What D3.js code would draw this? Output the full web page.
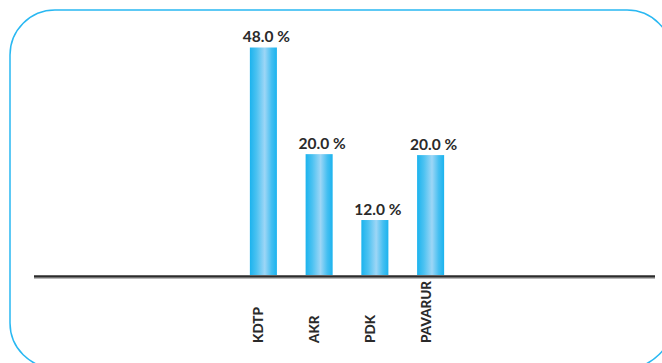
<!DOCTYPE html>
<html>
<head>
<meta charset="utf-8">
<script src="https://cdn.jsdelivr.net/npm/d3@7"></script>
<style>
  html, body { margin: 0; padding: 0; background: #fff; }
  svg { display: block; }
</style>
</head>
<body>
<svg id="chart" width="662" height="363"></svg>
<script>
const categories = ["KDTP", "AKR", "PDK", "PAVARUR"];
const values = [48, 25.5, 11.6, 25.3];
const valueLabels = ["48.0 %", "20.0 %", "12.0 %", "20.0 %"];

const svg = d3.select("#chart");

// frame
svg.append("rect")
  .attr("x", 10).attr("y", 10)
  .attr("width", 662).attr("height", 358)
  .attr("rx", 45).attr("ry", 45)
  .attr("fill", "none")
  .attr("stroke", "#29b8f2")
  .attr("stroke-width", 1.5);

const defs = svg.append("defs");
const grad = defs.append("linearGradient")
  .attr("id", "barGrad")
  .attr("x1", "0%").attr("x2", "100%").attr("y1", "0%").attr("y2", "0%");
grad.append("stop").attr("offset", "0%").attr("stop-color", "#1bb3ee");
grad.append("stop").attr("offset", "25%").attr("stop-color", "#4cc2f1");
grad.append("stop").attr("offset", "55%").attr("stop-color", "#9dd6f6");
grad.append("stop").attr("offset", "80%").attr("stop-color", "#45bff1");
grad.append("stop").attr("offset", "100%").attr("stop-color", "#1bb3ee");

const x = d3.scaleBand()
  .domain(categories)
  .range([222, 472])
  .paddingInner(0.515)
  .paddingOuter(0.5);

const y = d3.scaleLinear()
  .domain([0, 48])
  .range([275, 47.5]);

const data = categories.map((c, i) => ({ c, v: values[i], label: valueLabels[i] }));

svg.selectAll("rect.bar")
  .data(data)
  .enter().append("rect")
  .attr("class", "bar")
  .attr("x", d => x(d.c))
  .attr("y", d => y(d.v))
  .attr("width", x.bandwidth())
  .attr("height", d => y(0) - y(d.v))
  .attr("fill", "url(#barGrad)");

// baseline
svg.append("line")
  .attr("x1", 34).attr("x2", 655)
  .attr("y1", y(0) + 1.5).attr("y2", y(0) + 1.5)
  .attr("stroke", "#2b2b2b")
  .attr("stroke-width", 2.5);
svg.append("line")
  .attr("x1", 34).attr("x2", 655)
  .attr("y1", y(0) + 3.2).attr("y2", y(0) + 3.2)
  .attr("stroke", "#9a9a9a")
  .attr("stroke-width", 1);

// value labels
svg.selectAll("text.val")
  .data(data)
  .enter().append("text")
  .attr("class", "val")
  .attr("x", d => x(d.c) + x.bandwidth() / 2 + 3)
  .attr("y", d => y(d.v) - 5.5)
  .attr("text-anchor", "middle")
  .attr("font-family", "Lato, 'DejaVu Sans', sans-serif")
  .attr("font-weight", "bold")
  .attr("font-size", "15.5px")
  .attr("fill", "#2a2a2a")
  .text(d => d.label);

// category labels (rotated)
svg.selectAll("text.cat")
  .data(data)
  .enter().append("text")
  .attr("class", "cat")
  .attr("transform", d => `translate(${x(d.c) + x.bandwidth() / 2},343) rotate(-90)`)
  .attr("text-anchor", "start")
  .attr("font-family", "Lato, 'DejaVu Sans', sans-serif")
  .attr("font-weight", "900")
  .attr("font-size", "13.5px")
  .attr("fill", "#2a2a2a")
  .text(d => d.c);
</script>
</body>
</html>
